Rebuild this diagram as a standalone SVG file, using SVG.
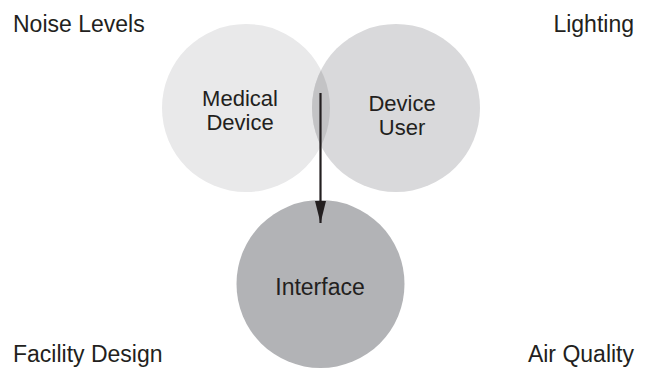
<svg xmlns="http://www.w3.org/2000/svg" width="649" height="374" viewBox="0 0 649 374">
<style>
text{font-family:"Liberation Sans",Arial,sans-serif;font-size:23px;fill:#231f20}
.c{text-anchor:middle}
.r{text-anchor:end}
.n{font-size:22px}
</style>
<defs>
<clipPath id="clipL"><circle cx="246" cy="108" r="84"/></clipPath>
<marker id="ah" viewBox="0 0 22 11" refX="22" refY="5.5" markerWidth="22" markerHeight="11" markerUnits="userSpaceOnUse" orient="auto">
<path d="M0,0 L22,5.5 L0,11 Z" fill="#231f20"/>
</marker>
</defs>
<rect width="649" height="374" fill="#ffffff"/>
<g id="medical-device">
<circle cx="246" cy="108" r="84" fill="#e9e9ea"/>
<text class="c n" x="240" y="106">Medical</text>
<text class="c n" x="240" y="130">Device</text>
</g>
<g id="device-user">
<circle cx="396" cy="108" r="84" fill="#d9d9db"/>
<circle cx="396" cy="108" r="84" fill="#c3c3c5" clip-path="url(#clipL)"/>
<text class="c n" x="402" y="111">Device</text>
<text class="c n" x="402" y="135">User</text>
</g>
<g id="interface">
<circle cx="320.5" cy="284" r="84" fill="#b2b3b6"/>
<text class="c" x="320" y="295">Interface</text>
</g>
<g id="connectors">
<line x1="320.5" y1="93" x2="320.5" y2="223" stroke="#231f20" stroke-width="2.2" marker-end="url(#ah)"/>
</g>
<g id="noise-levels"><text x="13" y="32">Noise Levels</text></g>
<g id="lighting"><text class="r" x="634" y="32">Lighting</text></g>
<g id="facility-design"><text x="13" y="362">Facility Design</text></g>
<g id="air-quality"><text class="r" x="634" y="362">Air Quality</text></g>
</svg>
